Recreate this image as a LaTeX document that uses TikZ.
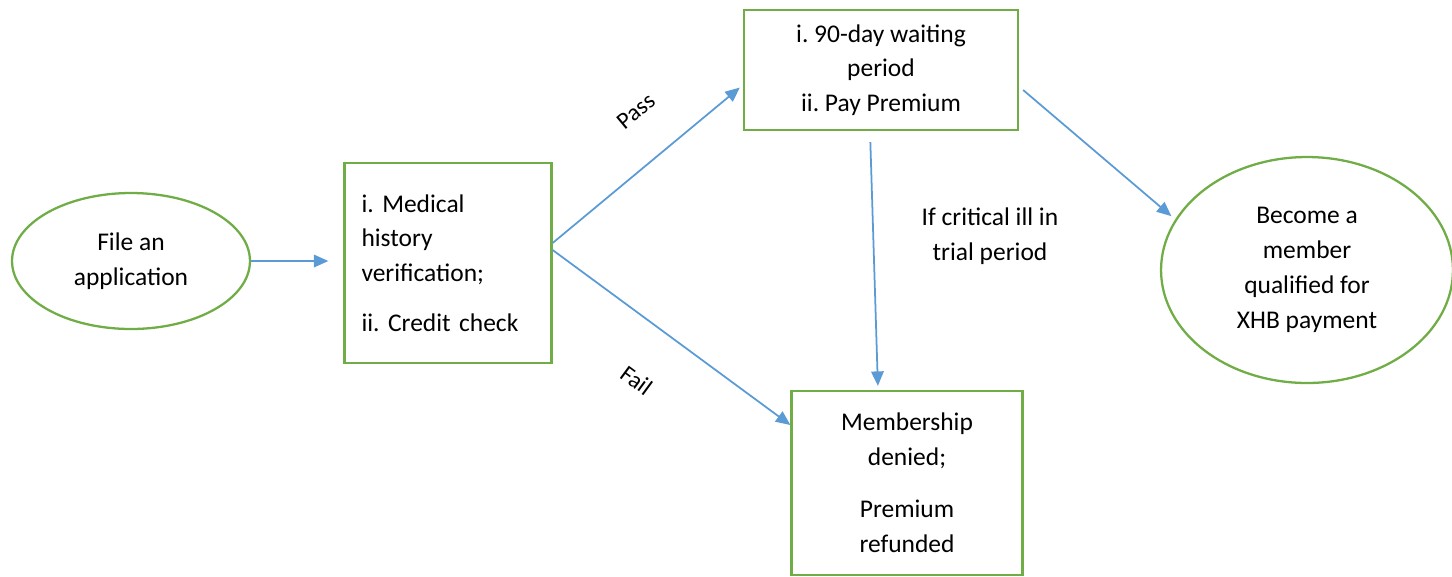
\documentclass[tikz,border=0pt]{standalone}
\usepackage{fontspec}
\setmainfont{Carlito}
\usetikzlibrary{arrows.meta,shapes.geometric}
\definecolor{boxgreen}{HTML}{70AD47}
\definecolor{flowblue}{HTML}{5B9BD5}
\frenchspacing

\begin{document}
\begin{tikzpicture}[x=0.02cm, y=-0.02cm,
      every node/.style={font=\fontsize{14.5}{19.8}\selectfont},
      oval/.style={ellipse, draw=boxgreen, line width=1.3pt, inner sep=0pt, align=center},
      stepbox/.style={rectangle, draw=boxgreen, line width=1.3pt, inner sep=0pt, align=center},
      flow/.style={-{Triangle[length=2.9mm, width=2.5mm]}, line width=1pt, draw=flowblue},
      lbl/.style={font=\fontsize{13.5}{16}\selectfont},
    ]
    \useasboundingbox (0,0) rectangle (1452,576);

    % Start and end ovals
    \node[oval, minimum width=4.76cm, minimum height=2.72cm] (app) at (131,261)
      {File an\\application};
    \node[oval, minimum width=5.84cm, minimum height=4.52cm] (member) at (1307,270)
      {Become a\\member\\qualified for\\XHB payment};

    % Steps
    \node[stepbox, minimum width=4.14cm, minimum height=4cm,
      text width=3.46cm, align=left] (verify) at (448,263)
      {i. Medical\\history\\verification;\\[3mm]ii. Credit check\\[3mm]};
    \node[stepbox, minimum width=5.48cm, minimum height=2.4cm] (wait) at (881,70)
      {i. 90-day waiting\\period\\ii. Pay Premium};
    \node[stepbox, minimum width=4.62cm, minimum height=3.68cm] (denied) at (907,483)
      {Membership\\denied;\\[3.5mm]Premium\\refunded};

    % Connectors
    \draw[flow, shorten >=0.3cm] (app.east) -- (app.east -| verify.west);
    \draw[flow, shorten >=0.08cm] ([yshift=0.4cm]verify.east)
      -- node[lbl, sloped, above=0.68cm, pos=0.6] (pass) {Pass} ([yshift=-0.3cm]wait.west);
    \draw[flow] ([yshift=0.26cm]verify.east)
      -- node[lbl, sloped, below=0.8cm, pos=0.49] (fail) {Fail} ([yshift=1.16cm]denied.west);
    \draw[flow, shorten <=0.22cm, shorten >=0.08cm] ([xshift=-0.22cm]wait.south)
      -- ([xshift=-0.58cm]denied.north);
    \draw[flow, shorten >=0.1cm] ([xshift=0.08cm, yshift=-0.4cm]wait.east) -- (member.159);

    \node[align=center] (ill) at (990,236) {If critical ill in\\trial period};
  \end{tikzpicture}
\end{document}
